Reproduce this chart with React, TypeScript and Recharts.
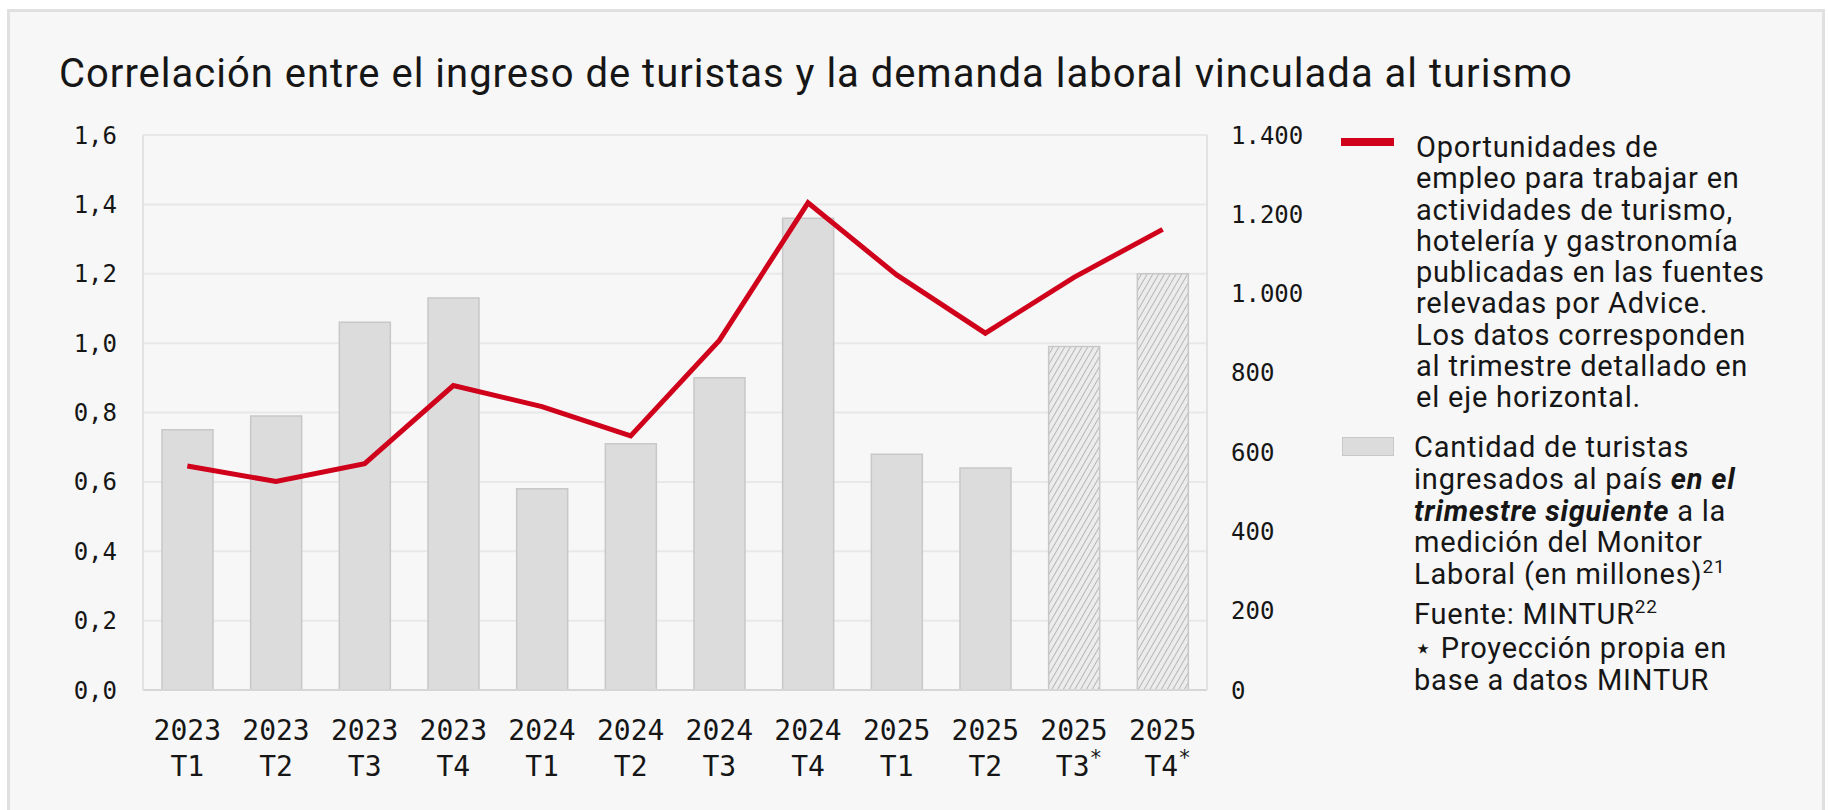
import { Bar, CartesianGrid, Cell, ComposedChart, Line, XAxis, YAxis } from "recharts";

const years = ["2023", "2023", "2023", "2023", "2024", "2024", "2024", "2024", "2025", "2025", "2025", "2025"];
const quarters = ["T1", "T2", "T3", "T4", "T1", "T2", "T3", "T4", "T1", "T2", "T3*", "T4*"];
// turistas ingresados en el trimestre siguiente (millones)
const turistas = [0.75, 0.79, 1.06, 1.13, 0.58, 0.71, 0.9, 1.36, 0.68, 0.64, 0.99, 1.2];
// oportunidades de empleo publicadas
const oportunidades = [565, 526, 571, 768, 715, 641, 882, 1229, 1047, 900, 1041, 1162];
const proyectado = [false, false, false, false, false, false, false, false, false, false, true, true];

const leftTicks = [0, 0.2, 0.4, 0.6, 0.8, 1.0, 1.2, 1.4, 1.6];
const rightTicks = [0, 200, 400, 600, 800, 1000, 1200, 1400];

const data = years.map((y, i) => ({
  name: `${y} ${quarters[i]}`,
  turistas: turistas[i],
  oportunidades: oportunidades[i],
}));

const RED = "#d0011b";
const MONO = "'DejaVu Sans Mono', monospace";
const SANS = "Roboto, 'Noto Sans', sans-serif";
const INK = "#161616";

function QuarterTick(props: any) {
  const { x, y, payload } = props;
  const [yr, q] = String(payload.value).split(" ");
  const star = q.endsWith("*");
  const base = star ? q.slice(0, -1) : q;
  return (
    <g>
      <text x={x} y={y + 50} textAnchor="middle" fontFamily={MONO} fontSize={28} fill={INK}>
        {yr}
      </text>
      <text x={x + (star ? 5 : 0)} y={y + 86} textAnchor="middle" fontFamily={MONO} fontSize={28} fill={INK}>
        {base}
        {star && (
          <tspan dy={-11} fontSize={21}>
            *
          </tspan>
        )}
      </text>
    </g>
  );
}

const fmtLeft = (v: number) => v.toFixed(1).replace(".", ",");
const fmtRight = (v: number) => v.toLocaleString("de-DE");

const legendText = {
  position: "absolute" as const,
  fontFamily: SANS,
  fontSize: 29,
  letterSpacing: "0.8px",
  color: INK,
  whiteSpace: "nowrap" as const,
};

export default function App() {
  return (
    <div style={{ position: "absolute", left: 0, top: 0, width: 1828, height: 810, background: "#fff", overflow: "hidden" }}>
      <div
        style={{
          position: "absolute",
          left: 7,
          top: 9,
          width: 1812,
          height: 820,
          background: "#f7f7f7",
          border: "3px solid #e0e0e0",
        }}
      />
      <div
        style={{
          position: "absolute",
          left: 59,
          top: 51,
          fontFamily: SANS,
          fontSize: 40,
          letterSpacing: "1px",
          lineHeight: "46px",
          color: INK,
          whiteSpace: "nowrap",
        }}
      >
        Correlación entre el ingreso de turistas y la demanda laboral vinculada al turismo
      </div>

      <div style={{ position: "absolute", left: 0, top: 0 }}>
        <ComposedChart width={1400} height={800} data={data} margin={{ top: 135, right: 0, bottom: 10, left: 0 }}>
          <defs>
            <pattern id="hatch" patternUnits="userSpaceOnUse" width="5" height="5" patternTransform="rotate(30)">
              <rect width="5" height="5" fill="#ececec" />
              <line x1="0" y1="0" x2="0" y2="5" stroke="#a9a9a9" strokeWidth="1.6" />
            </pattern>
          </defs>
          <CartesianGrid yAxisId="left" vertical={false} stroke="#e8e8e8" strokeWidth={2} />
          <XAxis
            dataKey="name"
            interval={0}
            height={100}
            tickLine={false}
            tickSize={0}
            tickMargin={0}
            axisLine={{ stroke: "#d6d6d6", strokeWidth: 2 }}
            tick={<QuarterTick />}
          />
          <YAxis
            yAxisId="left"
            width={143}
            domain={[0, 1.6]}
            ticks={leftTicks}
            tickFormatter={fmtLeft}
            tickLine={false}
            tickSize={0}
            tickMargin={26}
            axisLine={{ stroke: "#e2e2e2", strokeWidth: 2 }}
            tick={{ fontFamily: MONO, fontSize: 24, fill: INK }}
          />
          <YAxis
            yAxisId="right"
            orientation="right"
            width={193}
            domain={[0, 1400]}
            ticks={rightTicks}
            tickFormatter={fmtRight}
            tickLine={false}
            tickSize={0}
            tickMargin={24}
            axisLine={{ stroke: "#e2e2e2", strokeWidth: 2 }}
            tick={{ fontFamily: MONO, fontSize: 24, fill: INK, textAnchor: "start" }}
          />
          <Bar yAxisId="left" dataKey="turistas" barSize={51} stroke="#c8c8c8" strokeWidth={1.5} isAnimationActive={false}>
            {data.map((_, i) => (
              <Cell key={i} fill={proyectado[i] ? "url(#hatch)" : "#dcdcdc"} />
            ))}
          </Bar>
          <Line
            yAxisId="right"
            dataKey="oportunidades"
            type="linear"
            stroke={RED}
            strokeWidth={5}
            dot={false}
            isAnimationActive={false}
          />
        </ComposedChart>
      </div>

      {/* leyenda */}
      <div style={{ position: "absolute", left: 1341, top: 138, width: 53, height: 8, background: RED }} />
      <div
        style={{
          position: "absolute",
          left: 1342,
          top: 437,
          width: 50,
          height: 17,
          background: "#dcdcdc",
          border: "1px solid #c8c8c8",
        }}
      />
      <div style={{ ...legendText, left: 1416, top: 132, lineHeight: "31.3px" }}>
        Oportunidades de
        <br />
        empleo para trabajar en
        <br />
        actividades de turismo,
        <br />
        hotelería y gastronomía
        <br />
        publicadas en las fuentes
        <br />
        relevadas por Advice.
        <br />
        Los datos corresponden
        <br />
        al trimestre detallado en
        <br />
        el eje horizontal.
      </div>
      <div style={{ ...legendText, left: 1414, top: 432, lineHeight: "31.8px" }}>
        Cantidad de turistas
        <br />
        ingresados al país <b><i>en el</i></b>
        <br />
        <b><i>trimestre siguiente</i></b> a la
        <br />
        medición del Monitor
        <br />
        Laboral (en millones)<sup style={{ fontSize: 19, lineHeight: 0 }}>21</sup>
      </div>
      <div style={{ ...legendText, left: 1414, top: 598, lineHeight: "32px" }}>
        Fuente: MINTUR<sup style={{ fontSize: 19, lineHeight: 0 }}>22</sup>
      </div>
      <div style={{ ...legendText, left: 1414, top: 632, lineHeight: "32px" }}>
        ⋆ Proyección propia en
        <br />
        base a datos MINTUR
      </div>
    </div>
  );
}
